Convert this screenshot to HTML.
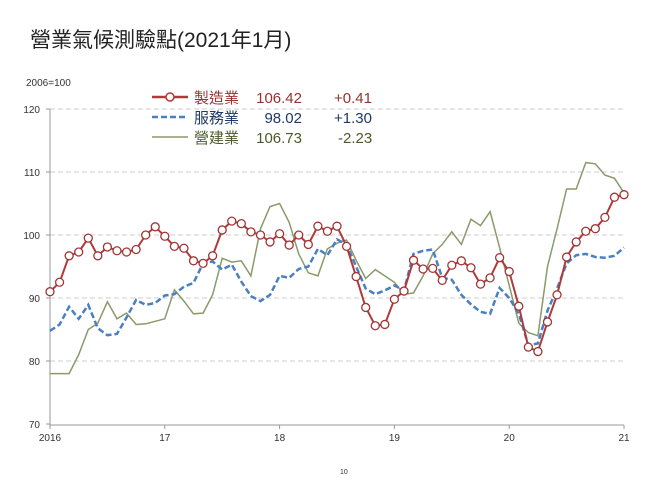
<!DOCTYPE html>
<html><head><meta charset="utf-8">
<style>
body{margin:0;background:#fff;width:656px;height:492px;overflow:hidden;font-family:"Liberation Sans","Noto Sans CJK TC",sans-serif}
svg{position:absolute;left:0;top:0}
</style></head><body>
<svg id="s" width="656" height="492" xmlns="http://www.w3.org/2000/svg" font-family="Liberation Sans, Noto Sans CJK TC, sans-serif">
<text x="30" y="47" font-size="21" fill="#222">營業氣候測驗點(2021年1月)</text>
<text x="26" y="86" font-size="10" fill="#333">2006=100</text>
<g id="grid"></g>
<g id="lines"></g>
<g font-size="15">
<line x1="152" y1="97" x2="188" y2="97" stroke="#b03a3a" stroke-width="2.5"/>
<circle cx="170" cy="97" r="4" fill="#fff" stroke="#b03a3a" stroke-width="1.5"/>
<text x="194" y="103" fill="#9a3030">製造業</text><text x="302" y="103" text-anchor="end" fill="#9a3030">106.42</text><text x="334" y="103" fill="#9a3030">+0.41</text>
<line x1="152" y1="117" x2="188" y2="117" stroke="#4a7fc0" stroke-width="2.5" stroke-dasharray="6,3"/>
<text x="194" y="123" fill="#1e3a66">服務業</text><text x="302" y="123" text-anchor="end" fill="#1e3a66">98.02</text><text x="334" y="123" fill="#1e3a66">+1.30</text>
<line x1="152" y1="137" x2="188" y2="137" stroke="#8a9a6a" stroke-width="1.5"/>
<text x="194" y="143" fill="#4a5a2a">營建業</text><text x="302" y="143" text-anchor="end" fill="#4a5a2a">106.73</text><text x="338" y="143" fill="#4a5a2a">-2.23</text>
</g>
<text x="340" y="474" font-size="7" fill="#333">10</text>
</svg>
<script>
var ns="http://www.w3.org/2000/svg",g=document.getElementById('grid'),L=document.getElementById('lines');
function X(i){return 50+i*9.567}function Y(v){return 109+(120-v)*6.3}
function el(t,a,p){var e=document.createElementNS(ns,t);for(var k in a)e.setAttribute(k,a[k]);(p||g).appendChild(e);return e}
for(var v=70;v<=120;v+=10){var y=Y(v);
if(v>70)el('line',{x1:50,x2:624,y1:y,y2:y,stroke:'#ccc','stroke-dasharray':'5,3'});
el('line',{x1:46,x2:50,y1:y,y2:y,stroke:'#999'});
var t=el('text',{x:40,y:y+4,'font-size':10,'text-anchor':'end',fill:'#333'});t.textContent=v;}
el('line',{x1:50,x2:50,y1:109,y2:425,stroke:'#999'});
el('line',{x1:50,x2:624,y1:425,y2:425,stroke:'#999'});
var yl=['2016','17','18','19','20','21'];
for(var k=0;k<6;k++){var x=X(k*12);el('line',{x1:x,x2:x,y1:425,y2:429,stroke:'#999'});var t=el('text',{x:x,y:441,'font-size':10,'text-anchor':'middle',fill:'#333'});t.textContent=yl[k];}
var m=[91,92.5,96.7,97.3,99.5,96.7,98.1,97.5,97.3,97.7,100,101.3,99.8,98.2,97.9,95.9,95.5,96.7,100.8,102.2,101.8,100.5,100,98.9,100.2,98.4,100,98.5,101.4,100.6,101.4,98.2,93.4,88.5,85.6,85.8,89.8,91.1,96,94.6,94.7,92.8,95.2,95.9,94.8,92.2,93.2,96.4,94.2,88.7,82.2,81.5,86.2,90.5,96.5,98.9,100.6,101,102.8,106,106.4];
var s=[84.8,85.8,88.6,86.7,88.9,85.2,84.1,84.3,86.9,89.7,88.9,89.2,90.4,90.6,91.8,92.4,95.5,95.8,94.5,95.3,92.6,90.3,89.5,90.5,93.5,93.2,94.6,95,97.8,96.8,99.3,98.5,95,91.5,90.6,91.2,92,91.2,97,97.5,97.7,93.2,92.9,90.5,89,87.8,87.5,91.6,90,87.5,82.5,82.8,88,91.5,95.5,96.8,97,96.5,96.4,96.7,98];
var c=[78,78,78,81,85,86,89.4,86.7,87.6,85.8,85.9,86.3,86.7,91.3,89.5,87.5,87.6,90.5,96.3,95.7,95.9,93.5,101,104.5,105,102,97,94,93.5,97.8,98.7,99.2,96,93.1,94.5,93.5,92.5,90.6,90.8,93.5,97,98.5,100.5,98.5,102.5,101.5,103.7,98,92,86,84.5,84,95,101,107.3,107.3,111.5,111.3,109.5,109,106.7];
function pts(a){return a.map(function(v,i){return X(i).toFixed(1)+','+Y(v).toFixed(1)}).join(' ')}
el('polyline',{points:pts(c),fill:'none',stroke:'#8a9a6a','stroke-width':1.5},L);
el('polyline',{points:pts(s),fill:'none',stroke:'#4a7fc0','stroke-width':2.5,'stroke-dasharray':'6,3'},L);
el('polyline',{points:pts(m),fill:'none',stroke:'#b03a3a','stroke-width':2},L);
m.forEach(function(v,i){el('circle',{cx:X(i),cy:Y(v),r:4,fill:'#fff',stroke:'#a03535','stroke-width':1.3},L)});
</script>
</body></html>
